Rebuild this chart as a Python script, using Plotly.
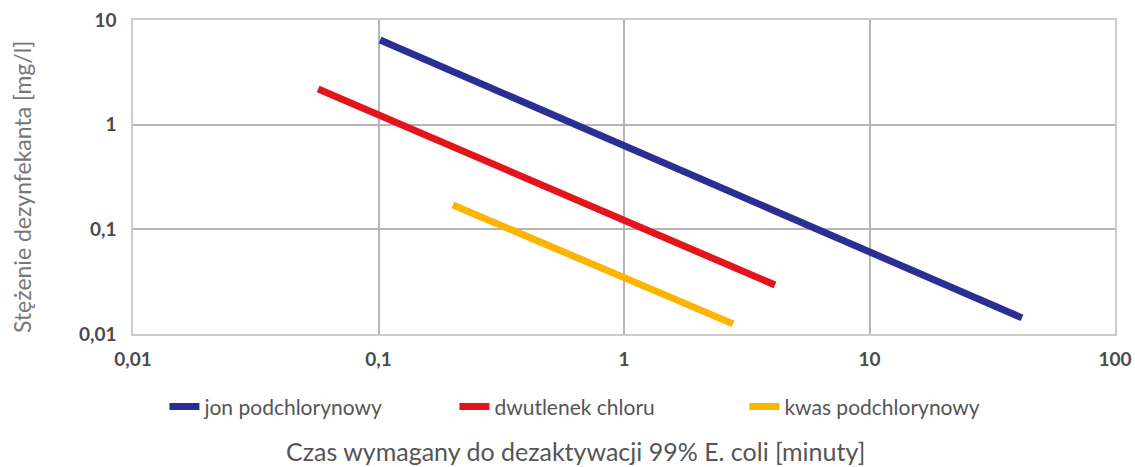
import plotly.graph_objects as go

series_names = ["jon podchlorynowy", "dwutlenek chloru", "kwas podchlorynowy"]
x_jon = [0.1015, 41.8]
y_jon = [6.44, 0.01425]
x_dwu = [0.0568, 4.12]
y_dwu = [2.19, 0.0294]
x_kwas = [0.201, 2.78]
y_kwas = [0.171, 0.0125]
colors = ["#2b2f93", "#e3141b", "#fbb400"]

x_tickvals = [0.01, 0.1, 1, 10, 100]
x_ticktext = ["0,01", "0,1", "1", "10", "100"]
y_tickvals = [0.01, 0.1, 1, 10]
y_ticktext = ["0,01", "0,1", "1", "10"]

fig = go.Figure()
for name, xs, ys, c in zip(series_names, [x_jon, x_dwu, x_kwas], [y_jon, y_dwu, y_kwas], colors):
    fig.add_trace(go.Scatter(x=xs, y=ys, mode="lines", name=name,
                             line=dict(color=c, width=7)))

fnt = "Lato, 'Open Sans', sans-serif"
tickfont = dict(family=fnt, size=19, color="#4a4a4a", weight=700)
fig.update_layout(
    width=1135, height=467,
    margin=dict(l=133, r=20, t=20, b=133, autoexpand=False),
    paper_bgcolor="white", plot_bgcolor="white",
    font=dict(family=fnt, color="#555555"),
    showlegend=True,
    legend=dict(orientation="h", x=0.032, xanchor="left", y=-0.232, yanchor="middle",
                font=dict(size=21, color="#555555"),
                entrywidthmode="pixels", entrywidth=245),
    xaxis=dict(type="log", range=[-2, 2], tickvals=x_tickvals, ticktext=x_ticktext,
               showgrid=True, gridcolor="#b5b5b5", gridwidth=1.5,
               showline=True, linecolor="#cccccc", linewidth=1.5, mirror=True,
               ticks="", zeroline=False, ticklabelstandoff=7, automargin=False,
               ticklabeloverflow="allow", tickfont=tickfont),
    yaxis=dict(type="log", range=[-2, 1], tickvals=y_tickvals, ticktext=y_ticktext,
               showgrid=True, gridcolor="#b5b5b5", gridwidth=1.5,
               showline=True, linecolor="#cccccc", linewidth=1.5, mirror=True,
               ticks="", zeroline=False, ticklabelstandoff=11, automargin=False,
               ticklabeloverflow="allow", tickfont=tickfont),
)
fig.add_annotation(text="Stężenie dezynfekanta [mg/l]", textangle=-90,
                   xref="paper", yref="paper", x=-0.113, y=0.468, xanchor="center", yanchor="middle",
                   showarrow=False, font=dict(size=23, color="#777777"))
fig.add_annotation(text="Czas wymagany do dezaktywacji 99% E. coli [minuty]",
                   xref="paper", yref="paper", x=0.451, y=-0.372, xanchor="center", yanchor="middle",
                   showarrow=False, font=dict(size=25, color="#555555"))

fig.write_html("out.html", config={"displayModeBar": False},
               post_script="document.body.style.margin='0';document.body.style.overflow='hidden';")
